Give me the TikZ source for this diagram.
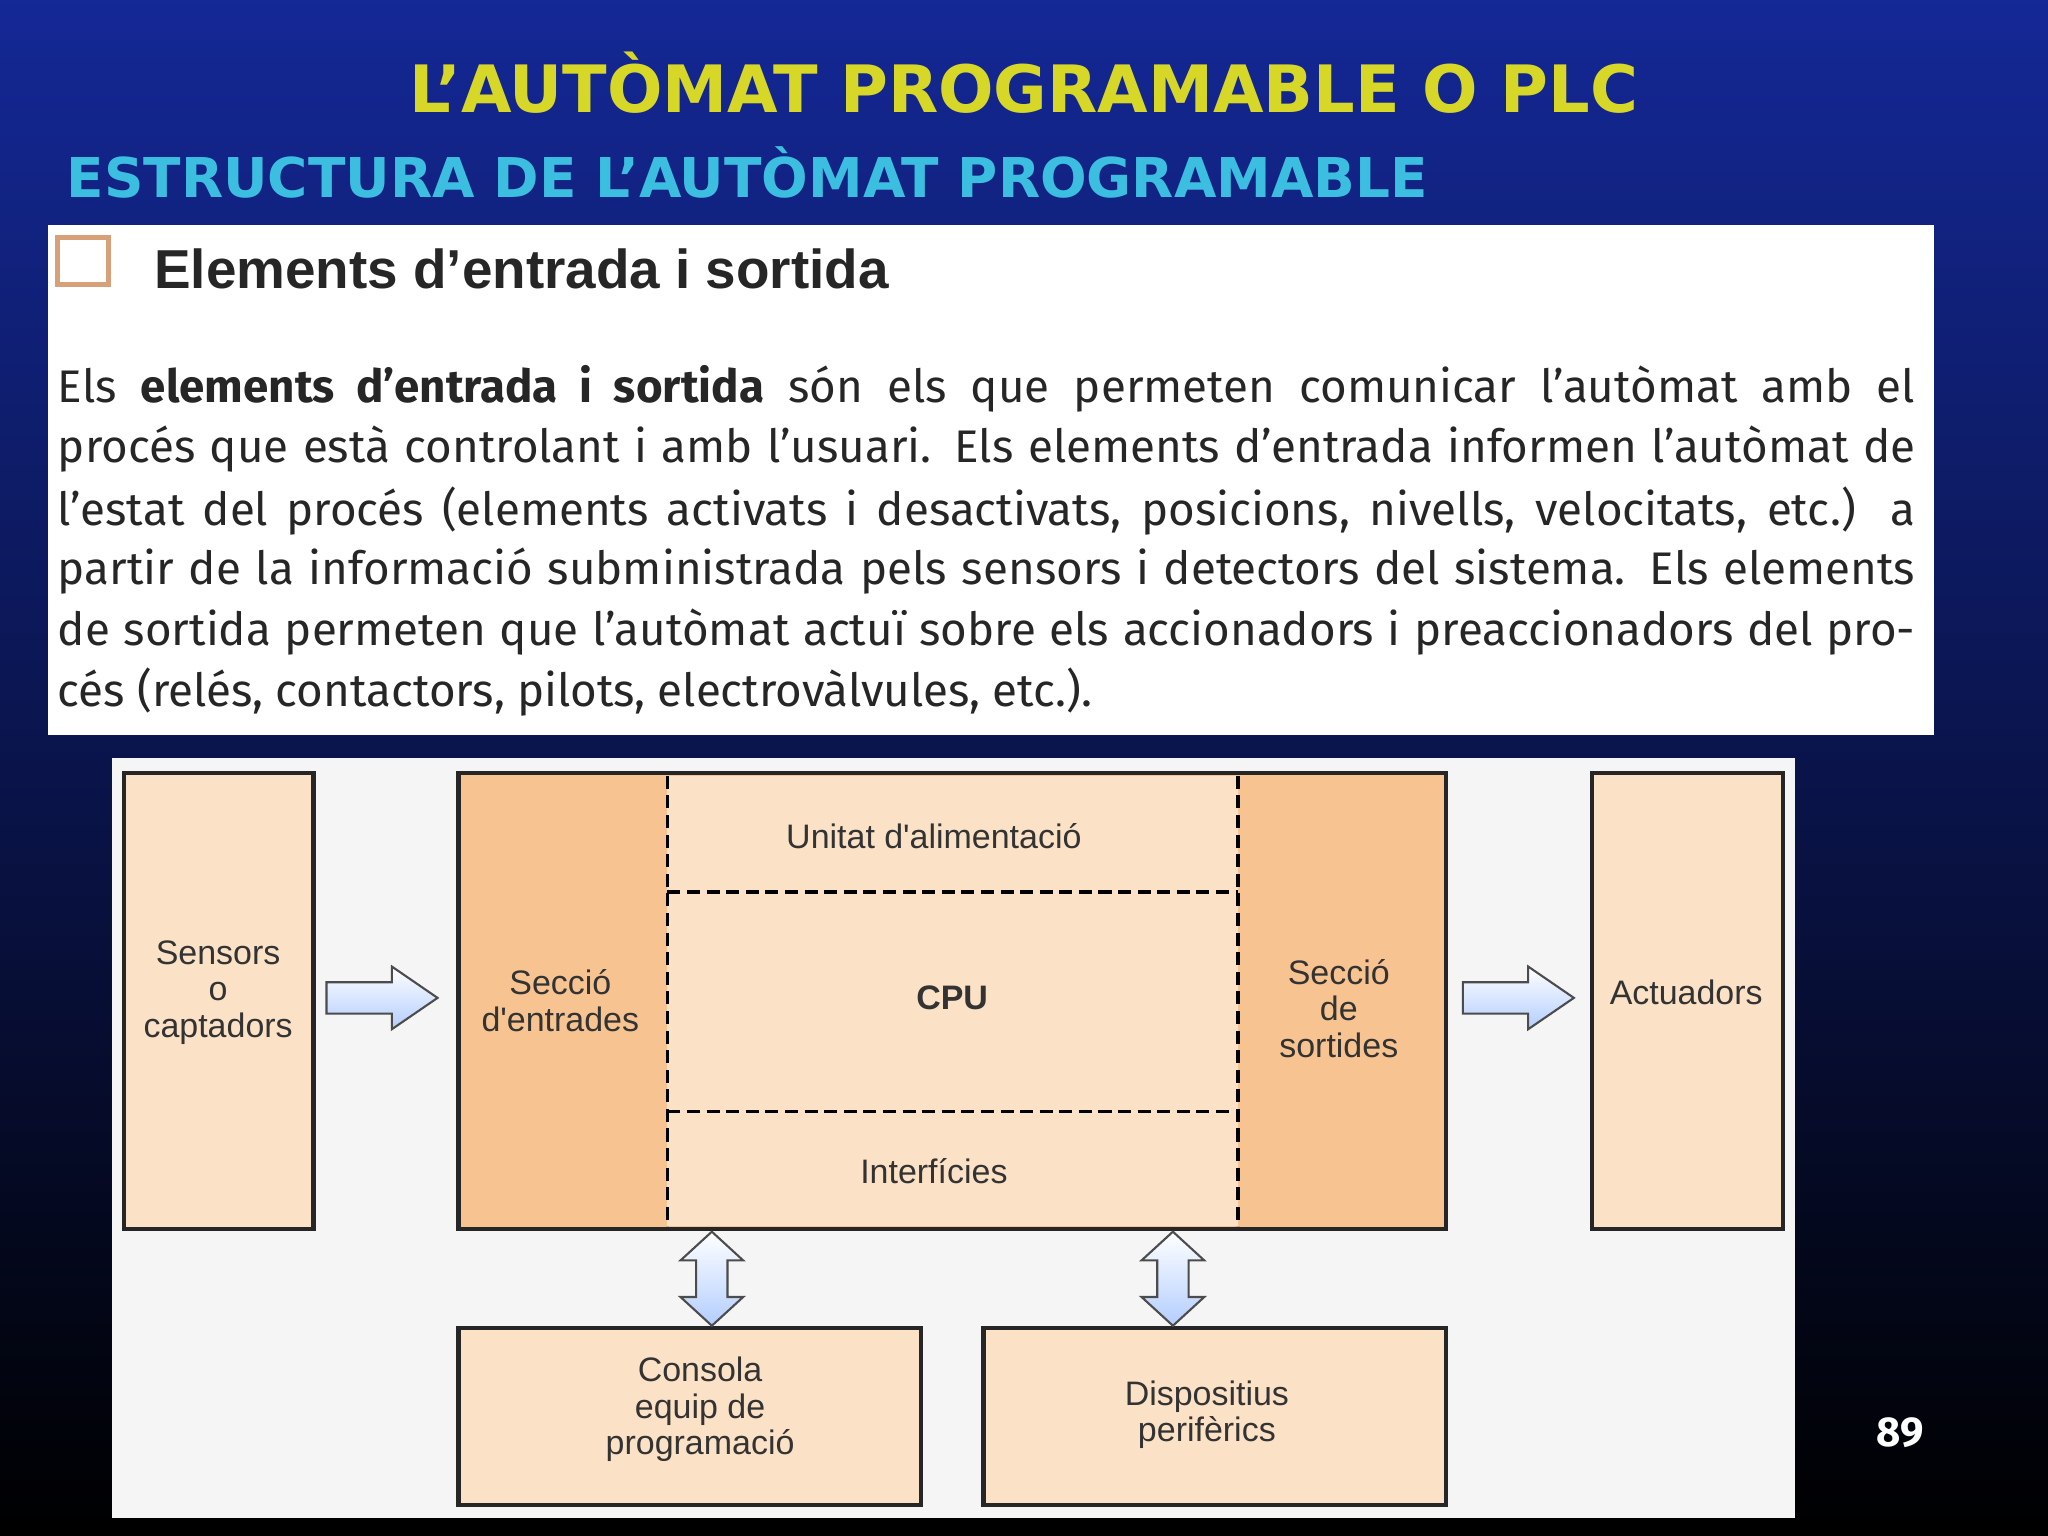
\documentclass[tikz,border=0pt]{standalone}
\usepackage{fontspec}
\setmainfont{Fira Sans}
\newfontfamily\titlefont{DejaVu Sans}
\newfontfamily\arialf{Liberation Sans}
\begin{document}
\begin{tikzpicture}[x=0.5pt,y=-0.5pt,
  box/.style={draw=black!85,line width=1.6pt,fill=peach},
  lbl/.style={font=\arialf\fontsize{13}{14}\selectfont,align=center,text=black!80},
  para/.style={anchor=west,inner sep=0,font=\fontsize{17.5}{18}\selectfont,text=black!85},
  barrow/.style={draw=black!70,line width=0.8pt,top color=white,bottom color=cyan!35!blue!30}]
\definecolor{peach}{RGB}{251,226,198}
\definecolor{orange1}{RGB}{247,196,145}
\definecolor{ttl}{RGB}{215,215,40}
\definecolor{sub}{RGB}{60,190,225}
\useasboundingbox (0,0) rectangle (1568,1176);
\shade[top color={rgb,255:red,20;green,40;blue,150},bottom color=black] (0,0) rectangle (1568,1176);
\node[text=ttl,font=\titlefont\bfseries\fontsize{25}{30}\selectfont] (t) at (784,63) {L’AUTÒMAT PROGRAMABLE O PLC};
\node[text=sub,font=\titlefont\bfseries\fontsize{21}{26}\selectfont,anchor=west] (s) at (44,132) {ESTRUCTURA DE L’AUTÒMAT PROGRAMABLE};
\fill[white] (37,172) rectangle (1481,563);
\draw[draw={rgb,255:red,215;green,160;blue,120},line width=2pt] (44,182) rectangle (83,218);
\node[anchor=west,font=\arialf\bfseries\fontsize{21}{24}\selectfont,text=black!85] (h) at (111,206) {Elements d’entrada i sortida};
\node[para] (l1) at (44,298) {\makebox[711pt][s]{Els \textbf{elements d’entrada i sortida} són els que permeten comunicar l’autòmat amb el}};
\node[para] (l2) at (44,344) {\makebox[711pt][s]{procés que està controlant i amb l’usuari. Els elements d’entrada informen l’autòmat de}};
\node[para] (l3) at (44,391) {\makebox[711pt][s]{l’estat del procés (elements activats i desactivats, posicions, nivells, velocitats, etc.) a}};
\node[para] (l4) at (44,437) {\makebox[711pt][s]{partir de la informació subministrada pels sensors i detectors del sistema. Els elements}};
\node[para] (l5) at (44,484) {\makebox[711pt][s]{de sortida permeten que l’autòmat actuï sobre els accionadors i preaccionadors del pro-}};
\node[para] (l6) at (44,530) {cés (relés, contactors, pilots, electrovàlvules, etc.).};
\fill[black!4] (86,580) rectangle (1374,1162);
\draw[box] (95,592) rectangle (240,941);
\draw[box,fill=orange1] (351,592) rectangle (1107,941);
\fill[peach] (511,594) rectangle (948,939);
\draw[dash pattern=on 5pt off 2.5pt,line width=1.4pt] (511,594) -- (511,939) (948,594) -- (948,939) (511,683) -- (948,683) (511,851) -- (948,851);
\draw[box] (1219,592) rectangle (1365,941);
\draw[box] (351,1017) rectangle (705,1152);
\draw[box] (753,1017) rectangle (1107,1152);
\node[lbl] (sen) at (167,760) {Sensors\\o\\captadors};
\node[lbl] (ent) at (429,766) {Secció\\d'entrades};
\node[lbl] (ua) at (715,640) {Unitat d'alimentació};
\node[lbl,font=\arialf\bfseries\fontsize{13}{14}\selectfont] (cpu) at (729,764) {CPU};
\node[lbl] (int) at (715,897) {Interfícies};
\node[lbl] (sor) at (1025,772) {Secció\\de\\sortides};
\node[lbl] (act) at (1291,760) {Actuadors};
\node[lbl] (con) at (536,1079) {Consola\\equip de\\programació};
\node[lbl] (dis) at (924,1083) {Dispositius\\perifèrics};
\foreach \x in {250,1120}
  \draw[barrow] (\x,752) -- (\x+50,752) -- (\x+50,740) -- (\x+85,764) -- (\x+50,788) -- (\x+50,776) -- (\x,776) -- cycle;
\foreach \x in {545,898}
  \draw[barrow] (\x,943) -- (\x+24,965) -- (\x+12,965) -- (\x+12,993) -- (\x+24,993) -- (\x,1015) -- (\x-24,993) -- (\x-12,993) -- (\x-12,965) -- (\x-24,965) -- cycle;
\node[text=white,font=\bfseries\fontsize{16}{18}\selectfont] (pg) at (1455,1097) {89};
\end{tikzpicture}
\end{document}
